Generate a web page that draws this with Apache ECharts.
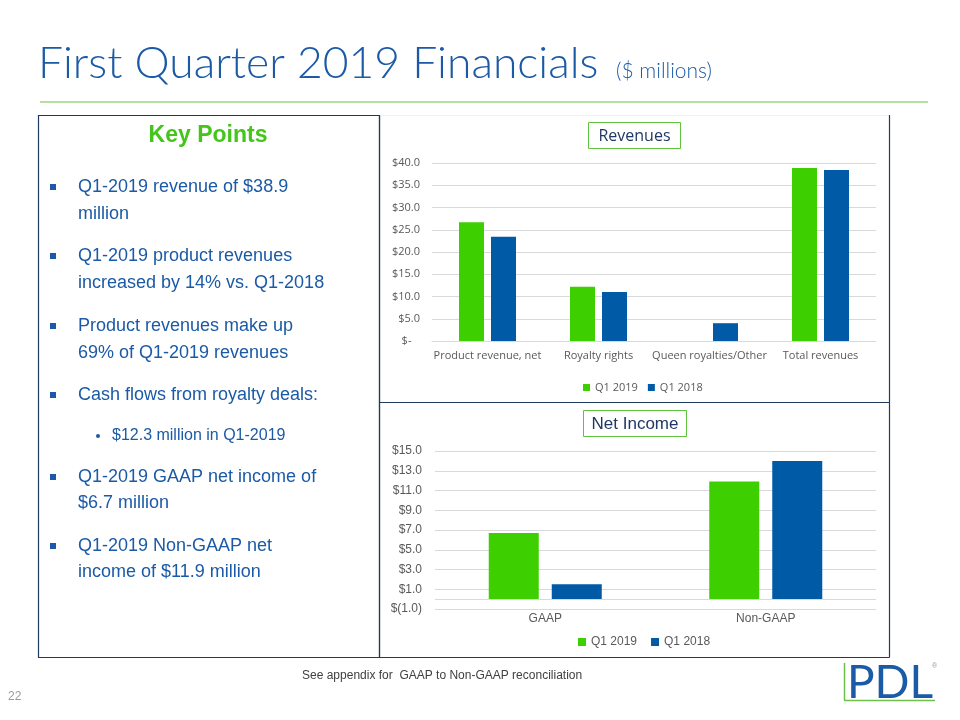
<!DOCTYPE html>
<html>
<head>
<meta charset="utf-8">
<script src="https://cdn.jsdelivr.net/npm/echarts@6/dist/echarts.min.js"></script>
<style>
  html, body { margin: 0; padding: 0; background: #ffffff; }
  #chart { width: 960px; height: 720px; }
</style>
</head>
<body>
<div id="chart"></div>
<script>
// ---- Data ----
var revenueCategories = ['Product revenue, net', 'Royalty rights', 'Queen royalties/Other', 'Total revenues'];
var revenueQ12019 = [26.7, 12.2, 0, 38.9];
var revenueQ12018 = [23.4, 11.0, 4.0, 38.4];

var incomeCategories = ['GAAP', 'Non-GAAP'];
var incomeQ12019 = [6.7, 11.9];
var incomeQ12018 = [1.5, 14.0];

var seriesNames = ['Q1 2019', 'Q1 2018'];

var keyPoints = [
  ['Q1-2019 revenue of $38.9', 'million'],
  ['Q1-2019 product revenues', 'increased by 14% vs. Q1-2018'],
  ['Product revenues make up', '69% of Q1-2019 revenues'],
  ['Cash flows from royalty deals:']
];
var subPoint = '$12.3 million in Q1-2019';
var keyPoints2 = [
  ['Q1-2019 GAAP net income of', '$6.7 million'],
  ['Q1-2019 Non-GAAP net', 'income of $11.9 million']
];

// ---- Styles ----
var GREEN = '#3DCF00';
var BLUE = '#005AA6';
var TEXTBLUE = '#1B5AA6';
var GRID = '#D9D9D9';
var AXISTXT = '#595959';
var BORDER = '#1F3A5A';

var chart = echarts.init(document.getElementById('chart'), null, { renderer: 'canvas' });

var graphics = [];
// Title
graphics.push({
  type: 'text', x: 38, y: 86, scaleX: 1.01,
  style: { text: 'First Quarter 2019 Financials', font: '300 44px Lato', fill: '#1B5AA6', verticalAlign: 'bottom' }
});
graphics.push({
  type: 'text', x: 616, y: 82,
  style: { text: '($ millions)', font: '300 21px Lato', fill: '#1B5AA6', verticalAlign: 'bottom' }
});
// green rule
graphics.push({ type: 'line', shape: { x1: 40, y1: 102, x2: 928, y2: 102 }, style: { stroke: '#6CC24A', lineWidth: 1 } });

// Boxes
graphics.push({ type: 'rect', shape: { x: 38.5, y: 115.5, width: 341, height: 542 }, style: { fill: null, stroke: BORDER, lineWidth: 1.2 } });
graphics.push({ type: 'line', shape: { x1: 380, y1: 115.5, x2: 890, y2: 115.5 }, style: { stroke: '#E6F4F8', lineWidth: 1 } });
graphics.push({ type: 'line', shape: { x1: 379.5, y1: 115, x2: 379.5, y2: 657.5 }, style: { stroke: BORDER, lineWidth: 1.2 } });
graphics.push({ type: 'line', shape: { x1: 889.5, y1: 115, x2: 889.5, y2: 657.5 }, style: { stroke: BORDER, lineWidth: 1.2 } });
graphics.push({ type: 'line', shape: { x1: 379.5, y1: 402.5, x2: 889.5, y2: 402.5 }, style: { stroke: BORDER, lineWidth: 1.2 } });
graphics.push({ type: 'line', shape: { x1: 379.5, y1: 657.5, x2: 889.5, y2: 657.5 }, style: { stroke: BORDER, lineWidth: 1.2 } });

// Chart title boxes
graphics.push({ type: 'rect', shape: { x: 588.5, y: 122.5, width: 92, height: 26 }, style: { fill: '#fff', stroke: '#5EC43E', lineWidth: 1 } });
graphics.push({ type: 'text', x: 634.5, y: 136, style: { text: 'Revenues', font: '16px "Open Sans"', fill: '#1F3864', align: 'center', verticalAlign: 'middle' } });
graphics.push({ type: 'rect', shape: { x: 583.5, y: 410.5, width: 103, height: 26 }, style: { fill: '#fff', stroke: '#5EC43E', lineWidth: 1 } });
graphics.push({ type: 'text', x: 635, y: 424, style: { text: 'Net Income', font: '17px "Liberation Sans"', fill: '#1F3864', align: 'center', verticalAlign: 'middle' } });

// Key points
graphics.push({ type: 'text', x: 208, y: 136, style: { text: 'Key Points', font: 'bold 23px "Liberation Sans"', fill: '#44C51A', align: 'center', verticalAlign: 'middle' } });
var lineYs = [[187, 214], [256, 283], [326, 353], [395]];
keyPoints.forEach(function (lines, i) {
  graphics.push({ type: 'rect', shape: { x: 50, y: lineYs[i][0] - 3, width: 6, height: 6 }, style: { fill: TEXTBLUE } });
  lines.forEach(function (t, j) {
    graphics.push({ type: 'text', x: 78, y: lineYs[i][j], style: { text: t, font: '18px "Liberation Sans"', fill: TEXTBLUE, verticalAlign: 'middle' } });
  });
});
graphics.push({ type: 'circle', shape: { cx: 98, cy: 436, r: 2 }, style: { fill: TEXTBLUE } });
graphics.push({ type: 'text', x: 112, y: 436, style: { text: subPoint, font: '16px "Liberation Sans"', fill: TEXTBLUE, verticalAlign: 'middle' } });
var lineYs2 = [[477, 503], [546, 572]];
keyPoints2.forEach(function (lines, i) {
  graphics.push({ type: 'rect', shape: { x: 50, y: lineYs2[i][0] - 3, width: 6, height: 6 }, style: { fill: TEXTBLUE } });
  lines.forEach(function (t, j) {
    graphics.push({ type: 'text', x: 78, y: lineYs2[i][j], style: { text: t, font: '18px "Liberation Sans"', fill: TEXTBLUE, verticalAlign: 'middle' } });
  });
});

// Footer
graphics.push({ type: 'text', x: 302, y: 676, style: { text: 'See appendix for  GAAP to Non-GAAP reconciliation', font: '12px "Liberation Sans"', fill: '#404040', verticalAlign: 'middle' } });
graphics.push({ type: 'text', x: 8, y: 697, style: { text: '22', font: '12px "Liberation Sans"', fill: '#9A9A9A', verticalAlign: 'middle' } });

// PDL logo
graphics.push({ type: 'line', shape: { x1: 844.5, y1: 663, x2: 844.5, y2: 700 }, style: { stroke: '#6CC24A', lineWidth: 1.5 } });
graphics.push({ type: 'line', shape: { x1: 844, y1: 700.5, x2: 935, y2: 700.5 }, style: { stroke: '#6CC24A', lineWidth: 1.5 } });
graphics.push({ type: 'text', x: 847, y: 706, style: { text: 'PDL', font: '400 46px Lato', fill: '#1B5AA6', verticalAlign: 'bottom' } });
graphics.push({ type: 'text', x: 932, y: 666, style: { text: '®', font: '7px "Liberation Sans"', fill: '#999', verticalAlign: 'middle' } });

var option = {
  animation: false,
  backgroundColor: '#ffffff',
  color: [GREEN, BLUE],
  grid: [
    { left: 432, right: 84, top: 163, height: 178 },
    { left: 435, right: 84, top: 451, height: 158 }
  ],
  legend: [
    {
      data: seriesNames, left: 578, top: 377, itemWidth: 7, itemHeight: 7, itemGap: 10,
      icon: 'rect', textStyle: { fontSize: 11, color: AXISTXT, fontFamily: 'Open Sans' }, selectedMode: false
    },
    {
      data: seriesNames, left: 573, top: 631, itemWidth: 8, itemHeight: 8, itemGap: 14,
      icon: 'rect', textStyle: { fontSize: 12, color: AXISTXT, fontFamily: 'Liberation Sans' }, selectedMode: false
    }
  ],
  xAxis: [
    {
      type: 'category', gridIndex: 0, data: revenueCategories,
      axisLine: { lineStyle: { color: GRID } }, axisTick: { show: false },
      axisLabel: { color: AXISTXT, fontSize: 11, fontFamily: 'Open Sans', margin: 9, interval: 0 }
    },
    {
      type: 'category', gridIndex: 1, data: incomeCategories,
      axisLine: { show: false, onZero: false }, axisTick: { show: false },
      axisLabel: { color: AXISTXT, fontSize: 12, fontFamily: 'Liberation Sans', margin: 4 }
    }
  ],
  yAxis: [
    {
      type: 'value', gridIndex: 0, min: 0, max: 40, interval: 5,
      axisLine: { show: false }, axisTick: { show: false },
      splitLine: { lineStyle: { color: GRID } },
      axisLabel: {
        color: AXISTXT, fontSize: 11, fontFamily: 'Open Sans', margin: 12,
        formatter: function (v) { return v === 0 ? '$-   ' : '$' + v.toFixed(1); }
      }
    },
    {
      type: 'value', gridIndex: 1, min: -1, max: 15, interval: 2,
      axisLine: { show: false }, axisTick: { show: false },
      splitLine: { lineStyle: { color: GRID } },
      axisLabel: {
        color: AXISTXT, fontSize: 12, fontFamily: 'Liberation Sans', margin: 13,
        formatter: function (v) { return v < 0 ? '$(' + Math.abs(v).toFixed(1) + ')' : '$' + v.toFixed(1); }
      }
    }
  ],
  series: [
    { name: seriesNames[0], type: 'bar', xAxisIndex: 0, yAxisIndex: 0, data: revenueQ12019, barWidth: 25, barGap: '28%', itemStyle: { color: GREEN } },
    { name: seriesNames[1], type: 'bar', xAxisIndex: 0, yAxisIndex: 0, data: revenueQ12018, barWidth: 25, barGap: '28%', itemStyle: { color: BLUE } },
    {
      name: seriesNames[0], type: 'bar', xAxisIndex: 1, yAxisIndex: 1, data: incomeQ12019, barWidth: 50, barGap: '26%', itemStyle: { color: GREEN },
      markLine: { silent: true, symbol: 'none', label: { show: false }, lineStyle: { color: GRID, type: 'solid', width: 1 }, data: [{ yAxis: 0 }] }
    },
    { name: seriesNames[1], type: 'bar', xAxisIndex: 1, yAxisIndex: 1, data: incomeQ12018, barWidth: 50, barGap: '26%', itemStyle: { color: BLUE } }
  ],
  graphic: graphics
};
chart.setOption(option);
</script>
</body>
</html>
